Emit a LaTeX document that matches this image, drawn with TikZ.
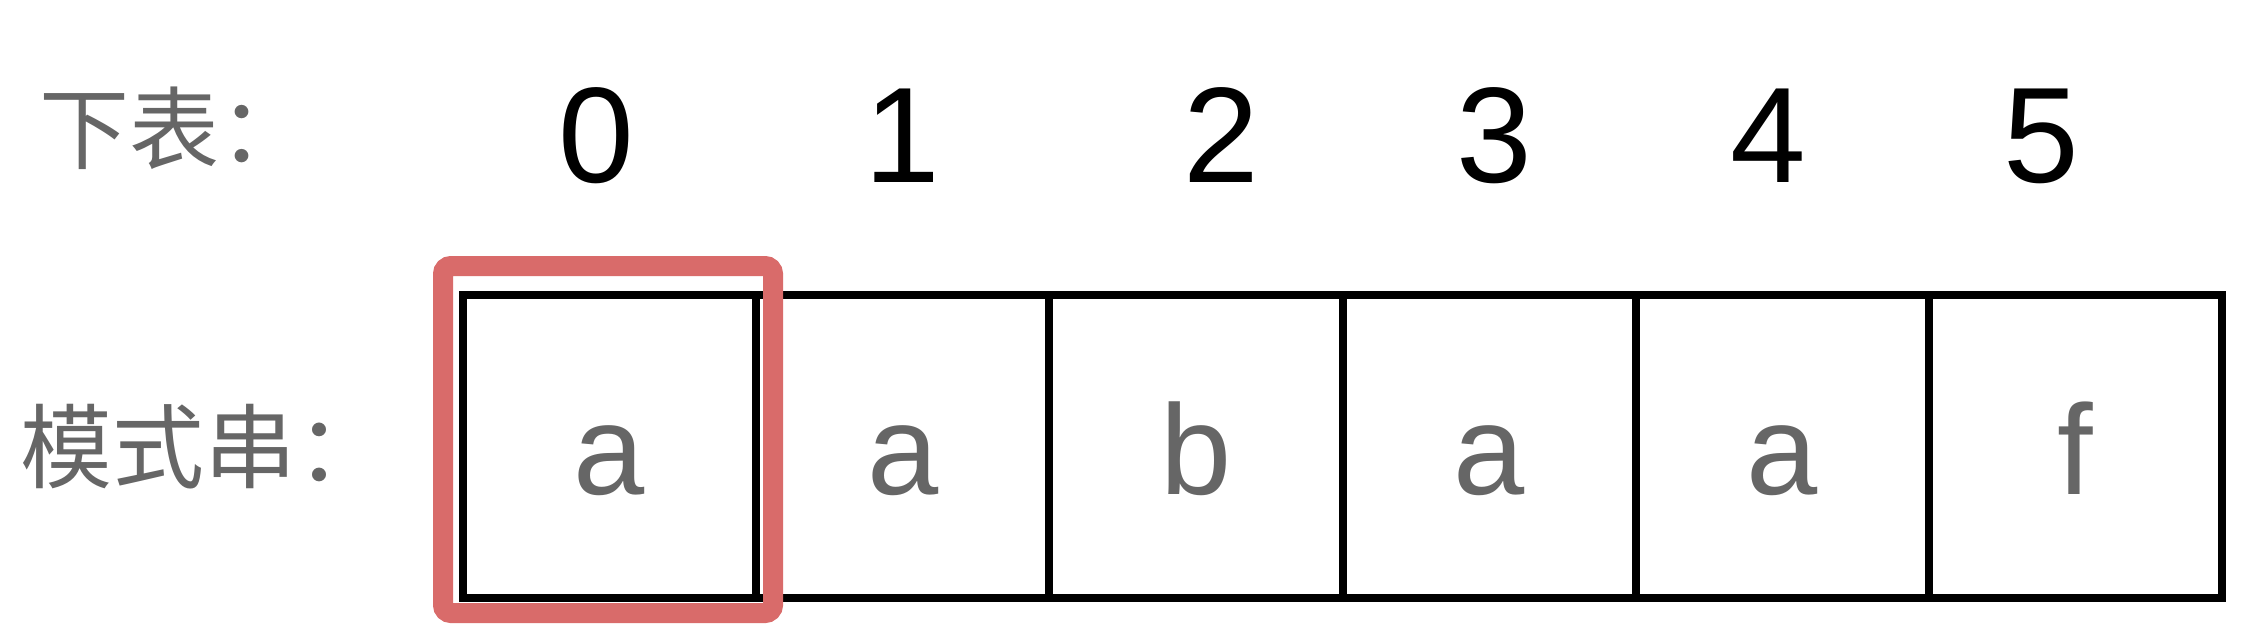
\documentclass[tikz,border=0pt]{standalone}
\usepackage{fontspec}
\setmainfont{Liberation Sans}
\newfontfamily\cjkfont{Noto Sans CJK SC}
\definecolor{hlred}{HTML}{D96B6A}
\definecolor{txtgrey}{HTML}{666666}
\tikzset{
  cellbox/.style={draw=black, line width=4pt, minimum width=146.6pt, minimum height=151.5pt, inner sep=0pt, outer sep=0pt},
  celltext/.style={text=txtgrey, font=\fontsize{64pt}{70pt}\selectfont, anchor=base, inner sep=0pt},
  idxtext/.style={text=black, font=\fontsize{68pt}{70pt}\selectfont, anchor=base, inner sep=0pt},
  lbltext/.style={text=txtgrey, anchor=west, inner sep=0pt},
  hlbox/.style={draw=hlred, line width=10pt, rounded corners=4pt, minimum width=165pt, minimum height=173.5pt, inner sep=0pt}
}
\begin{document}
\begin{tikzpicture}[x=0.5pt,y=-0.5pt]
\useasboundingbox (0,0) rectangle (2262,642);
% labels
\node[lbltext, font=\cjkfont\fontsize{45pt}{50pt}\selectfont] (lblidx) at (39,128) {下表：};
\node[lbltext, font=\cjkfont\fontsize{46pt}{50pt}\selectfont] (lblpat) at (20,447) {模式串：};
% cells
\foreach \k/\ch in {0/a,1/a,2/b,3/a,4/a,5/f}{
  \node[cellbox] (c\k) at ({609.5+\k*293.2},446.5) {};
  \node[celltext] (t\k) at ({609.5+\k*293.2},494) {\ch};
}
% indices
\foreach \k/\xx in {0/596,1/902,2/1221,3/1494,4/1768,5/2041}{
  \node[idxtext] (i\k) at (\xx,182) {\k};
}
% highlight
\node[hlbox] (hl) at (608,439.5) {};
\end{tikzpicture}
\end{document}
